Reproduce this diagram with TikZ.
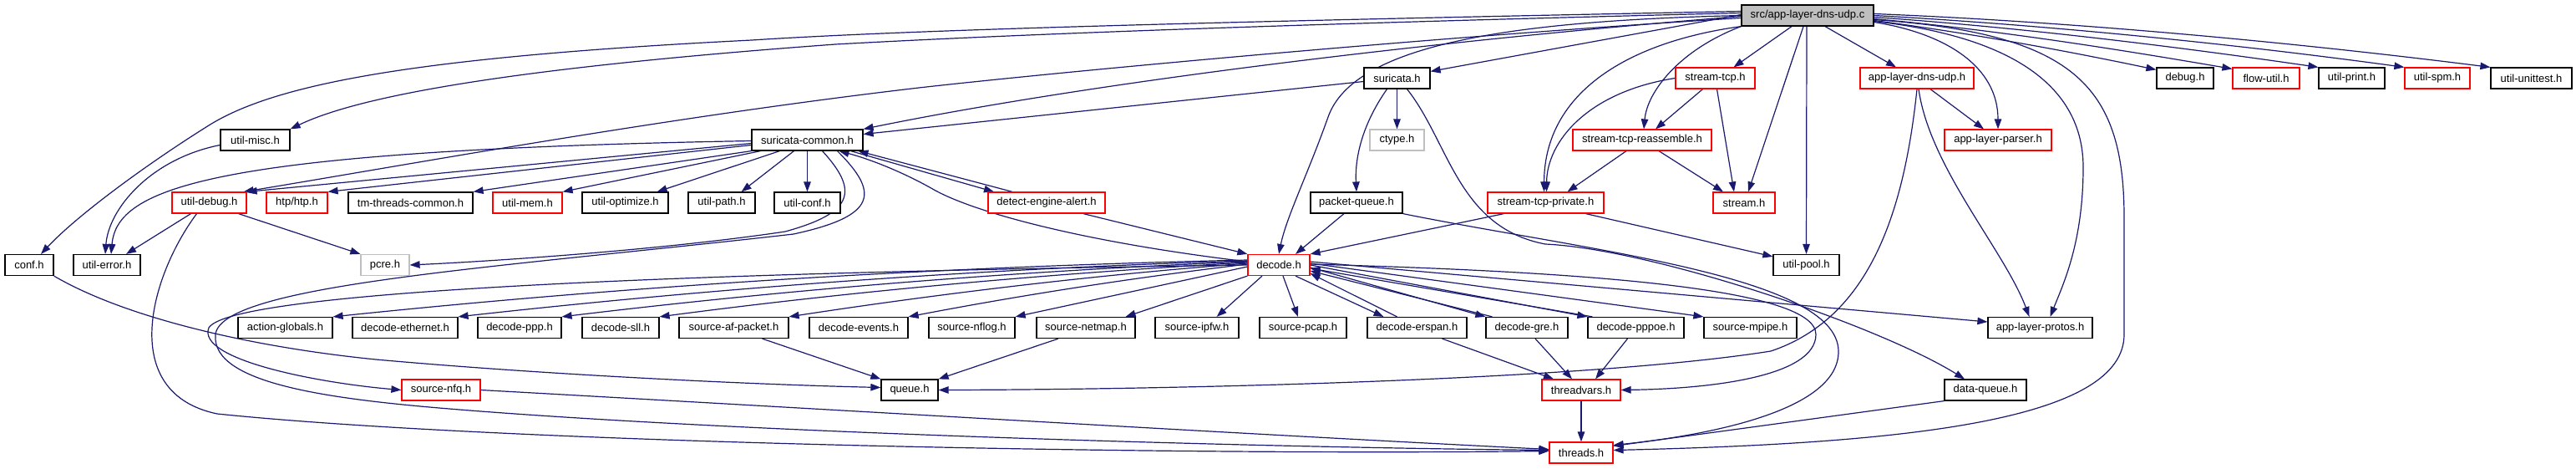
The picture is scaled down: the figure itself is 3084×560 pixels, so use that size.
\documentclass[tikz,border=0pt]{standalone}
\usepackage{fontspec}
\setmainfont{Liberation Sans}
\usetikzlibrary{arrows.meta}
\pgfdeclarelayer{bglayer}
\pgfdeclarelayer{edgelayer}
\pgfsetlayers{bglayer,edgelayer,main}
\definecolor{edgec}{HTML}{191970}
\definecolor{redb}{HTML}{FF0000}
\definecolor{grayb}{HTML}{BFBFBF}
\definecolor{rootf}{HTML}{BFBFBF}
\tikzset{
 box/.style={draw, line width=1.2pt, minimum height=25pt, inner sep=0pt, fill=white, font=\fontsize{13}{15}\selectfont},
 nb/.style={box, draw=black},
 nr/.style={box, draw=redb},
 ng/.style={box, draw=grayb},
 e/.style={draw=edgec, line width=1.2pt, -{Triangle[length=12pt,width=8.5pt]}},
}
\begin{document}
\begin{tikzpicture}[x=1pt,y=-1pt]
\useasboundingbox (0,0) rectangle (3084,560);
\begin{pgfonlayer}{bglayer}
\fill[white] (0,0) rectangle (3084,560);
\end{pgfonlayer}
% row 0
\node[nb, fill=rootf, minimum width=158pt] (root) at (2164,18.5) {src/app-layer-dns-udp.c};
% row 1
\node[nb, minimum width=79pt] (suricata) at (1672.5,93.5) {suricata.h};
\node[nr, minimum width=95pt] (stcp) at (2053.5,93.5) {stream-tcp.h};
\node[nr, minimum width=136pt] (adu) at (2295,93.5) {app-layer-dns-udp.h};
\node[nb, minimum width=68pt] (debug) at (2616,93.5) {debug.h};
\node[nr, minimum width=80pt] (flowutil) at (2713,93.5) {flow-util.h};
\node[nb, minimum width=79pt] (uprint) at (2815.5,93.5) {util-print.h};
\node[nr, minimum width=78pt] (uspm) at (2918,93.5) {util-spm.h};
\node[nb, minimum width=97pt] (uunit) at (3030.5,93.5) {util-unittest.h};
% row 2
\node[nb, minimum width=83pt] (umisc) at (305.5,167.5) {util-misc.h};
\node[nb, minimum width=133pt] (sc) at (966.5,167.5) {suricata-common.h};
\node[ng, minimum width=65pt] (ctype) at (1672.5,167.5) {ctype.h};
\node[nr, minimum width=166pt] (str) at (1966,167.5) {stream-tcp-reassemble.h};
\node[nr, minimum width=128pt] (alp) at (2392,167.5) {app-layer-parser.h};
% row 3
\node[nr, minimum width=89pt] (udebug) at (250.5,242.5) {util-debug.h};
\node[nr, minimum width=73pt] (htp) at (355.5,242.5) {htp/htp.h};
\node[nb, minimum width=149pt] (tmtc) at (491.5,242.5) {tm-threads-common.h};
\node[nr, minimum width=83pt] (umem) at (631.5,242.5) {util-mem.h};
\node[nb, minimum width=103pt] (uopt) at (748.5,242.5) {util-optimize.h};
\node[nb, minimum width=80pt] (upath) at (864,242.5) {util-path.h};
\node[nb, minimum width=79pt] (uconf) at (966.5,242.5) {util-conf.h};
\node[nr, minimum width=140pt] (dea) at (1253,242.5) {detect-engine-alert.h};
\node[nb, minimum width=110pt] (pq) at (1624,242.5) {packet-queue.h};
\node[nr, minimum width=139pt] (stp) at (1850.5,242.5) {stream-tcp-private.h};
\node[nr, minimum width=74pt] (stream) at (2088,242.5) {stream.h};
% row 4
\node[nb, minimum width=58pt] (conf) at (35,317) {conf.h};
\node[nb, minimum width=80pt] (uerr) at (128,317) {util-error.h};
\node[ng, minimum width=58pt] (pcre) at (461,317) {pcre.h};
\node[nr, minimum width=74pt] (decode) at (1531,317) {decode.h};
\node[nb, minimum width=79pt] (upool) at (2162.5,317) {util-pool.h};
% row 5
\node[nb, minimum width=113pt] (ag) at (341.5,392) {action-globals.h};
\node[nb, minimum width=126pt] (deth) at (485,392) {decode-ethernet.h};
\node[nb, minimum width=100pt] (dppp) at (622,392) {decode-ppp.h};
\node[nb, minimum width=92pt] (dsll) at (743,392) {decode-sll.h};
\node[nb, minimum width=131pt] (saf) at (878.5,392) {source-af-packet.h};
\node[nb, minimum width=118pt] (devt) at (1028,392) {decode-events.h};
\node[nb, minimum width=103pt] (snflog) at (1163.5,392) {source-nflog.h};
\node[nb, minimum width=118pt] (snetmap) at (1300,392) {source-netmap.h};
\node[nb, minimum width=100pt] (sipfw) at (1433,392) {source-ipfw.h};
\node[nb, minimum width=104pt] (spcap) at (1560,392) {source-pcap.h};
\node[nb, minimum width=119pt] (derspan) at (1696.5,392) {decode-erspan.h};
\node[nb, minimum width=98pt] (dgre) at (1828,392) {decode-gre.h};
\node[nb, minimum width=115pt] (dpppoe) at (1958.5,392) {decode-pppoe.h};
\node[nb, minimum width=111pt] (smpipe) at (2095.5,392) {source-mpipe.h};
\node[nb, minimum width=125pt] (alpr) at (2442.5,392) {app-layer-protos.h};
% row 6
\node[nr, minimum width=94pt] (nfq) at (528,466.5) {source-nfq.h};
\node[nb, minimum width=68pt] (queue) at (1089,466.5) {queue.h};
\node[nr, minimum width=94pt] (tv) at (1893,466.5) {threadvars.h};
\node[nb, minimum width=98pt] (dq) at (2377,466.5) {data-queue.h};
% row 7
\node[nr, minimum width=76pt] (threads) at (1893,541.5) {threads.h};

\begin{pgfonlayer}{edgelayer}
% ---- edges from root
\draw[e] ([yshift=5pt]root.west) .. controls (1500,25) and (1100,35) .. (900,48) .. controls (500,68) and (330,100) .. (250,150) .. controls (170,200) and (90,260) .. ([xshift=14pt]conf.north);
\draw[e] ([yshift=3pt]root.west) .. controls (1500,30) and (1200,42) .. (1000,53) .. controls (700,75) and (450,105) .. (umisc.north east);
\draw[e] ([yshift=-3pt]root.west) .. controls (1700,45) and (1250,88) .. (1100,105) .. controls (800,140) and (500,195) .. ([xshift=-4pt]udebug.north east);
\draw[e] ([yshift=-1pt]root.west) .. controls (1700,50) and (1300,100) .. (sc.north east);
\draw[e] ([yshift=1pt]root.west) -- ([yshift=-5pt]suricata.north east);
\draw[e] (root.west) .. controls (1800,25) and (1620,55) .. (1590,140) .. controls (1565,210) and (1540,260) .. (decode.north);
\draw[e] (root.south west) .. controls (1950,50) and (1849,110) .. ([xshift=-2pt]stp.north);
\draw[e] (root.south west) .. controls (2010,60) and (1972,110) .. ([xshift=2pt]str.north);
\draw[e] ([xshift=-19pt]root.south) -- ([xshift=22pt]stcp.north);
\draw[e] ([xshift=-5pt]root.south) -- ([xshift=5pt]stream.north);
\draw[e] ([xshift=-1pt]root.south) -- (upool.north);
\draw[e] ([xshift=21pt]root.south) -- ([xshift=-25pt]adu.north);
\draw[e] ([yshift=-8pt]root.east) .. controls (2330,40) and (2392,80) .. (alp.north);
\draw[e] ([yshift=-7pt]root.east) .. controls (2420,45) and (2494,110) .. (2494,200) .. controls (2494,290) and (2470,340) .. ([xshift=12pt]alpr.north);
\draw[e] ([yshift=-5pt]root.east) .. controls (2480,40) and (2543,100) .. (2543,260) -- (2543,400) .. controls (2543,500) and (2300,530) .. ([yshift=3pt]threads.east);
\draw[e] ([yshift=-6pt]root.east) .. controls (2360,40) and (2470,60) .. ([yshift=-3pt]debug.north west);
\draw[e] ([yshift=-4pt]root.east) .. controls (2390,36) and (2530,58) .. ([yshift=-2pt]flowutil.north west);
\draw[e] ([yshift=-2pt]root.east) .. controls (2420,33) and (2600,55) .. (uprint.north west);
\draw[e] (root.east) .. controls (2450,30) and (2670,52) .. (uspm.north west);
\draw[e] ([yshift=2pt]root.east) .. controls (2480,26) and (2740,50) .. (uunit.north west);

% ---- stream family
\draw[e] (stcp.west) .. controls (1900,110) and (1852,170) .. ([xshift=1pt]stp.north);
\draw[e] ([xshift=-15pt]stcp.south) -- ([xshift=16pt]str.north);
\draw[e] ([xshift=2pt]stcp.south) -- ([xshift=-12pt]stream.north);
\draw[e] ([xshift=20pt]str.south) -- ([xshift=-25pt]stream.north);
\draw[e] ([xshift=-19pt]str.south) -- ([xshift=26pt]stp.north);
\draw[e] ([xshift=-50pt]stp.south) -- (decode.north east);
\draw[e] ([xshift=48pt]stp.south) -- ([yshift=-3pt]upool.north west);

% ---- app layer
\draw[e] ([xshift=16pt]adu.south) -- ([xshift=-17pt]alp.north);
\draw[e] ([xshift=2pt]adu.south) .. controls (2310,200) and (2400,300) .. ([xshift=-13pt]alpr.north);
\draw[e] (adu.south) .. controls (2280,250) and (2240,380) .. (2120,420) .. controls (1900,455) and (1400,466) .. (queue.east);

% ---- suricata-common.h
\draw[e] ([yshift=-4pt]sc.west) -- (udebug.north east);
\draw[e] ([yshift=-1pt]sc.west) .. controls (250,180) and (140,225) .. ([xshift=5pt]uerr.north);
\draw[e] ([yshift=-6pt]sc.west) -- (htp.north east);
\draw[e] (sc.south west) -- (tmtc.north east);
\draw[e] ([xshift=-56pt]sc.south) -- (umem.north east);
\draw[e] ([xshift=-33pt]sc.south) -- ([xshift=-14pt]uopt.north east);
\draw[e] ([xshift=-16pt]sc.south) -- ([xshift=-17pt]upath.north east);
\draw[e] (sc.south) -- (uconf.north);
\draw[e] ([xshift=18pt]sc.south) .. controls (1030,230) and (1020,255) .. (940,277) .. controls (800,298) and (600,312) .. (pcre.east);
\draw[e] ([xshift=36pt]sc.south) .. controls (1052,230) and (1052,258) .. (950,280) .. controls (600,320) and (265,340) .. (258,400) .. controls (252,460) and (400,478) .. (550,490) .. controls (900,518) and (1500,535) .. ([yshift=3pt]threads.west);
\draw[e] ([xshift=52pt]sc.south) -- ([xshift=-63pt]dea.north);
\draw[e] ([xshift=-41pt]dea.north) -- ([xshift=61pt]sc.south);
\draw[e] ([xshift=44pt]dea.south) -- (decode.north west);

% ---- suricata.h
\draw[e] ([yshift=-4pt]suricata.west) -- ([yshift=7pt]sc.east);
\draw[e] (suricata.south) -- (ctype.north);
\draw[e] ([xshift=-12pt]suricata.south) .. controls (1630,150) and (1622,190) .. (pq.north);
\draw[e] ([xshift=12pt]suricata.south) .. controls (1735,170) and (1745,272) .. (1850,292) .. controls (1980,298) and (2250,390) .. ([xshift=-25pt]dq.north);

% ---- packet-queue.h
\draw[e] ([xshift=-15pt]pq.south) -- ([xshift=20pt]decode.north);
\draw[e] (pq.south east) .. controls (1900,300) and (2200,330) .. (2201,420) .. controls (2202,490) and (2050,520) .. ([yshift=9pt]threads.east);

% ---- decode.h (back edges)
\draw[e] ([yshift=4pt]decode.west) .. controls (1300,290) and (1170,255) .. (1120,228) .. controls (1080,205) and (1040,190) .. ([xshift=38pt]sc.south);
\draw[e] ([xshift=-24pt]derspan.north) -- ([yshift=-10pt]decode.east);
\draw[e] ([xshift=8pt]dgre.north west) -- ([yshift=-7pt]decode.east);
\draw[e] ([xshift=6pt]dpppoe.north west) -- ([yshift=-4pt]decode.east);

% ---- decode.h outgoing
\draw[e] ([yshift=6pt]decode.west) .. controls (1129,319) and (763,341) .. (ag.north east);
\draw[e] ([yshift=5pt]decode.west) .. controls (1179,321) and (863,344) .. (deth.north east);
\draw[e] ([yshift=4pt]decode.west) .. controls (1220,324) and (946,346) .. (dppp.north east);
\draw[e] ([yshift=3pt]decode.west) .. controls (1259,327) and (1024,348) .. (dsll.north east);
\draw[e] ([yshift=2pt]decode.west) .. controls (1311,329) and (1127,351) .. (saf.north east);
\draw[e] ([yshift=1pt]decode.west) .. controls (1358,332) and (1223,353) .. (devt.north east);
\draw[e] ([yshift=-2pt]decode.west) -- (snflog.north east);
\draw[e] (decode.south west) -- ([xshift=-12pt]snetmap.north east);
\draw[e] ([xshift=-20pt]decode.south) -- ([xshift=-27pt]sipfw.north east);
\draw[e] ([xshift=5pt]decode.south) -- ([xshift=-6pt]spcap.north);
\draw[e] ([xshift=20pt]decode.south) -- ([xshift=-40pt]derspan.north);
\draw[e] ([yshift=-3pt]decode.east) -- (dgre.north west);
\draw[e] (decode.east) -- (dpppoe.north west);
\draw[e] ([yshift=2pt]decode.east) -- (smpipe.north west);
\draw[e] ([yshift=4pt]decode.east) -- ([yshift=7pt]alpr.west);
\draw[e] ([yshift=1pt]decode.east) .. controls (1900,325) and (2174,345) .. (2174,400) .. controls (2174,450) and (2050,465) .. (tv.east);
\draw[e] (decode.west) .. controls (900,325) and (280,345) .. (250,392) .. controls (235,430) and (380,458) .. (nfq.west);

% ---- lower edges
\draw[e] ([xshift=34pt]saf.south) -- (queue.north west);
\draw[e] ([xshift=-33pt]snetmap.south) -- (queue.north east);
\draw[e] (conf.south east) .. controls (150,380) and (300,415) .. (450,430) .. controls (650,448) and (900,460) .. ([yshift=3pt]queue.west);
\draw[e] (nfq.east) .. controls (1000,490) and (1500,520) .. ([yshift=4pt]threads.west);
\draw[e] ([xshift=-15pt]udebug.south) .. controls (180,330) and (140,470) .. (260,495) .. controls (600,530) and (1400,545) .. ([yshift=2pt]threads.west);
\draw[e] ([xshift=-22pt]udebug.south) -- ([xshift=23pt]uerr.north);
\draw[e] ([xshift=35pt]udebug.south) -- (pcre.north west);
\draw[e] ([yshift=-6pt]umisc.west) .. controls (180,190) and (130,250) .. ([xshift=-2pt]uerr.north);
\draw[e] (tv.south) -- (threads.north);
\draw[e] ([xshift=30pt]derspan.south) -- ([xshift=-33pt]tv.north);
\draw[e] ([xshift=10pt]dgre.south) -- ([xshift=-11pt]tv.north);
\draw[e] ([xshift=-10pt]dpppoe.south) -- ([xshift=17pt]tv.north);
\draw[e] (dq.south west) -- ([yshift=8pt]threads.east);
\end{pgfonlayer}
\end{tikzpicture}
\end{document}
